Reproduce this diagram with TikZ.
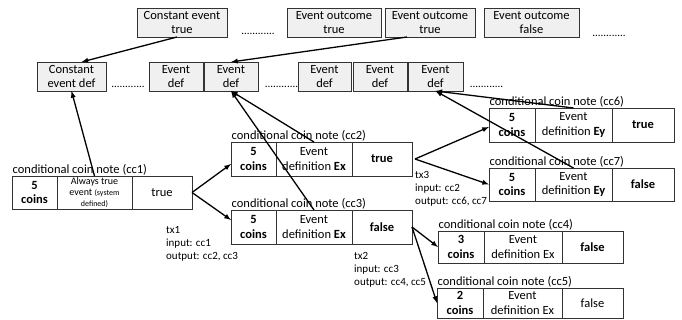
\documentclass[tikz,border=0pt]{standalone}
\usepackage{fontspec}
\setmainfont{Carlito}
\usetikzlibrary{positioning}

\tikzset{
  evbox/.style={draw=black!80, fill=black!6, align=center, minimum height=29pt,
    inner sep=0pt, outer sep=0pt, font=\fontsize{12.5}{14.5}\selectfont},
  cell/.style={draw=black!80, align=center, minimum height=33pt, inner sep=0pt,
    outer sep=0pt, font=\fontsize{12.5}{14.5}\selectfont},
  note/.style={inner sep=0.5pt, font=\fontsize{12.5}{14}\selectfont},
  txlbl/.style={anchor=north west, align=left, inner sep=0pt, font=\fontsize{11}{13}\selectfont},
  dots/.style={inner sep=0pt, anchor=base, font=\fontsize{11}{13}\selectfont},
  link/.style={->, >=latex, line width=1.3pt},
}

\begin{document}
\begin{tikzpicture}[x=1pt,y=-1pt]
\useasboundingbox (0,0) rectangle (682,320);

% event outcomes
\path (182,22.5) node[evbox,minimum width=90pt] (cet) {Constant event\\true};
\path (258,35) node[dots] (dt1) {............};
\path (334,22.5) node[evbox,minimum width=94pt] (eot1) {Event outcome\\true};
\path (430,22.5) node[evbox,minimum width=90pt] (eot2) {Event outcome\\true};
\path (531.5,22.5) node[evbox,minimum width=95pt] (eof) {Event outcome\\false};
\path (609,37) node[dots] (dt2) {............};

% event definitions
\path (71.5,76.5) node[evbox,minimum width=69pt] (ced) {Constant\\event def};
\path (128,88) node[dots] (dt3) {............};
\path (176,76.5) node[evbox,minimum width=54pt] (ed1) {Event\\def};
\path (231,76.5) node[evbox,minimum width=54pt] (ed2) {Event\\def};
\path (281.5,88) node[dots] (dt4) {............};
\path (324.5,76.5) node[evbox,minimum width=53pt] (ed3) {Event\\def};
\path (380,76.5) node[evbox,minimum width=54pt] (ed4) {Event\\def};
\path (435.5,76.5) node[evbox,minimum width=55pt] (ed5) {Event\\def};
\path (486.5,88) node[dots] (dt5) {............};

% cc1
\path (12,176) node[cell,anchor=north west,minimum width=45pt] (c1a) {\textbf{5}\\\textbf{coins}};
\node[cell,right=0pt of c1a,minimum width=75pt,font=\fontsize{10}{11.3}\selectfont] (c1b)
  {Always true\\event {\fontsize{8}{9}\selectfont (system}\\{\fontsize{8}{9}\selectfont defined)}};
\node[cell,right=0pt of c1b,minimum width=60pt] (c1c) {true};
\node[note,above right=0pt and 0pt of c1a.north west] (n1) {conditional coin note (cc1)};

% cc2
\path (231,142) node[cell,anchor=north west,minimum width=45pt,minimum height=34pt] (c2a) {\textbf{5}\\\textbf{coins}};
\node[cell,right=0pt of c2a,minimum width=76pt,minimum height=34pt] (c2b) {Event\\definition \textbf{Ex}};
\node[cell,right=0pt of c2b,minimum width=60pt,minimum height=34pt] (c2c) {\textbf{true}};
\node[note,above right=0pt and 0pt of c2a.north west] (n2) {conditional coin note (cc2)};

% cc3
\path (231,210) node[cell,anchor=north west,minimum width=45pt,minimum height=34pt] (c3a) {\textbf{5}\\\textbf{coins}};
\node[cell,right=0pt of c3a,minimum width=76pt,minimum height=34pt] (c3b) {Event\\definition \textbf{Ex}};
\node[cell,right=0pt of c3b,minimum width=60pt,minimum height=34pt] (c3c) {\textbf{false}};
\node[note,above right=0pt and 0pt of c3a.north west] (n3) {conditional coin note (cc3)};

% cc6
\path (489,108) node[cell,anchor=north west,minimum width=46pt,minimum height=34pt] (c6a) {\textbf{5}\\\textbf{coins}};
\node[cell,right=0pt of c6a,minimum width=77pt,minimum height=34pt] (c6b) {Event\\definition \textbf{Ey}};
\node[cell,right=0pt of c6b,minimum width=62pt,minimum height=34pt] (c6c) {\textbf{true}};
\node[note,above right=0pt and 0pt of c6a.north west] (n6) {conditional coin note (cc6)};

% cc7
\path (489,168) node[cell,anchor=north west,minimum width=46pt] (c7a) {\textbf{5}\\\textbf{coins}};
\node[cell,right=0pt of c7a,minimum width=77pt] (c7b) {Event\\definition \textbf{Ey}};
\node[cell,right=0pt of c7b,minimum width=62pt] (c7c) {\textbf{false}};
\node[note,above right=0pt and 0pt of c7a.north west] (n7) {conditional coin note (cc7)};

% cc4
\path (438,231) node[cell,anchor=north west,minimum width=46pt,minimum height=32pt] (c4a) {\textbf{3}\\\textbf{coins}};
\node[cell,right=0pt of c4a,minimum width=78pt,minimum height=32pt] (c4b) {Event\\definition Ex};
\node[cell,right=0pt of c4b,minimum width=61pt,minimum height=32pt] (c4c) {\textbf{false}};
\node[note,above right=0pt and 0pt of c4a.north west] (n4) {conditional coin note (cc4)};

% cc5
\path (437,288) node[cell,anchor=north west,minimum width=46pt,minimum height=30pt] (c5a) {\textbf{2}\\\textbf{coins}};
\node[cell,right=0pt of c5a,minimum width=79pt,minimum height=30pt] (c5b) {Event\\definition Ex};
\node[cell,right=0pt of c5b,minimum width=61pt,minimum height=30pt] (c5c) {false};
\node[note,above right=0pt and 0pt of c5a.north west] (n5) {conditional coin note (cc5)};

% transactions
\path (166,226) node[txlbl] (tx1) {tx1\\input: cc1\\output: cc2, cc3};
\path (354,252) node[txlbl] (tx2) {tx2\\input: cc3\\output: cc4, cc5};
\path (415,171) node[txlbl] (tx3) {tx3\\input: cc2\\output: cc6, cc7};

% links
\draw[link] ([xshift=-5pt]cet.south) -- ([xshift=10pt]ced.north);
\draw[link] ([xshift=-23pt]eot2.south) -- (ed2.north);
\draw[link] (c1b.north) -- (ced.south);
\draw[link] (c2b.north) -- (ed2.south);
\draw[link] (c3b.north) -- (ed2.south);
\draw[link] (c6b.north) -- (ed5.south);
\draw[link] (c7b.north) -- (ed5.south);
\draw[link] (c1c.east) -- ([yshift=-5pt]c2a.west);
\draw[link] (c1c.east) -- ([yshift=7pt]c3a.west);
\draw[link] ([xshift=3pt]c2c.east) -- ([yshift=-2pt]c6a.west);
\draw[link] ([xshift=3pt]c2c.east) -- (c7a.west);
\draw[link] (c3c.east) -- (c4a.west);
\draw[link] (c3c.east) -- (c5a.west);
\end{tikzpicture}
\end{document}
